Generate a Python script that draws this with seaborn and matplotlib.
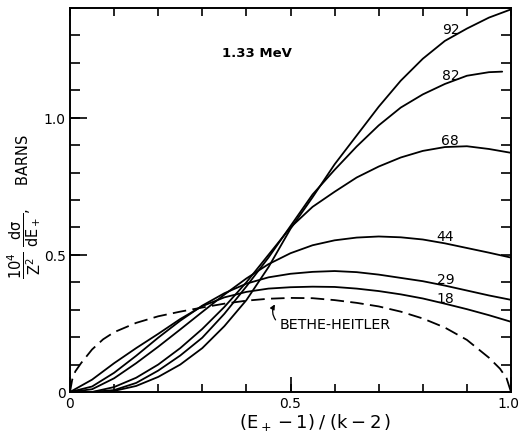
import numpy as np
import pandas as pd
import matplotlib
matplotlib.use("Agg")
import matplotlib.pyplot as plt
from matplotlib.ticker import MultipleLocator, FixedLocator
from matplotlib.transforms import ScaledTranslation
import seaborn as sns

# Positron energy fraction (E+ - 1)/(k - 2)
x_grid = [0.0, 0.05, 0.1, 0.15, 0.2, 0.25, 0.3, 0.35, 0.4, 0.45, 0.5,
          0.55, 0.6, 0.65, 0.7, 0.75, 0.8, 0.85, 0.9, 0.95, 1.0]

# Scaled cross sections 10^4/Z^2 dsigma/dE+ (barns) for each atomic number Z
z18 = [0.0, 0.045, 0.105, 0.160, 0.212, 0.266, 0.313, 0.345, 0.365, 0.377, 0.382,
       0.384, 0.383, 0.377, 0.368, 0.356, 0.341, 0.322, 0.302, 0.280, 0.256]
z29 = [0.0, 0.020, 0.070, 0.132, 0.198, 0.260, 0.315, 0.360, 0.395, 0.418, 0.431,
       0.438, 0.441, 0.437, 0.428, 0.416, 0.404, 0.388, 0.370, 0.352, 0.336]
z44 = [0.0, 0.010, 0.050, 0.105, 0.165, 0.228, 0.292, 0.355, 0.414, 0.466, 0.506,
       0.535, 0.553, 0.563, 0.567, 0.564, 0.556, 0.542, 0.525, 0.508, 0.490]
z68 = [0.0, 0.0, 0.018, 0.052, 0.100, 0.160, 0.230, 0.310, 0.400, 0.500, 0.600,
       0.675, 0.730, 0.782, 0.822, 0.855, 0.879, 0.893, 0.896, 0.886, 0.872]
z82_x = [0.0, 0.05, 0.1, 0.15, 0.2, 0.25, 0.3, 0.35, 0.4, 0.45, 0.5,
         0.55, 0.6, 0.65, 0.7, 0.75, 0.8, 0.85, 0.9, 0.95, 0.98]
z82 = [0.0, 0.0, 0.007, 0.033, 0.078, 0.133, 0.198, 0.285, 0.385, 0.490, 0.605,
       0.720, 0.810, 0.895, 0.972, 1.037, 1.085, 1.123, 1.153, 1.166, 1.168]
z92 = [0.0, 0.0, 0.004, 0.022, 0.055, 0.100, 0.160, 0.240, 0.335, 0.455, 0.595,
       0.710, 0.830, 0.935, 1.040, 1.135, 1.215, 1.280, 1.325, 1.365, 1.395]

# Bethe-Heitler (Born approximation) curve
bh_x = [0.0, 0.005, 0.012, 0.025, 0.05, 0.075, 0.1, 0.15, 0.2, 0.25, 0.3, 0.35,
        0.4, 0.45, 0.5, 0.55, 0.6, 0.65, 0.7, 0.75, 0.8, 0.85, 0.9, 0.95,
        0.975, 0.99, 1.0]
bh_y = [0.0, 0.045, 0.075, 0.105, 0.155, 0.192, 0.218, 0.252, 0.276, 0.293, 0.308,
        0.322, 0.333, 0.340, 0.343, 0.342, 0.335, 0.325, 0.312, 0.293, 0.268,
        0.235, 0.190, 0.125, 0.085, 0.050, 0.0]

curve_labels = ["92", "82", "68", "44", "29", "18"]
label_x = [0.864, 0.864, 0.862, 0.851, 0.853, 0.851]
label_y = [1.323, 1.156, 0.919, 0.569, 0.412, 0.343]

sns.set_theme(style="white")
plt.rcParams["font.family"] = ["DejaVu Sans"]
plt.rcParams.update({"text.color": "black", "axes.labelcolor": "black",
                     "xtick.color": "black", "ytick.color": "black"})

fig = plt.figure(figsize=(5.19, 4.35), dpi=100)
ax = fig.add_axes([70 / 519, 1 - 393 / 435, 441 / 519, 384 / 435])

series = [(x_grid, z92), (z82_x, z82), (x_grid, z68),
          (x_grid, z44), (x_grid, z29), (x_grid, z18)]
for xs, ys in series:
    sns.lineplot(x=xs, y=ys, ax=ax, color="black", linewidth=1.3,
                 estimator=None, sort=False)

sns.lineplot(x=bh_x, y=bh_y, ax=ax, color="black", linewidth=1.3,
             estimator=None, sort=False)
ax.lines[-1].set_dashes((7.5, 3.5))

ax.set_xlim(0, 1.0)
ax.set_ylim(0, 1.4)

for s in ax.spines.values():
    s.set_color("black")
    s.set_linewidth(1.4)

# Labelled majors on bottom/left only; short ticks every 0.1 on all four sides
ax.xaxis.set_major_locator(FixedLocator([0, 0.5, 1.0]))
ax.xaxis.set_minor_locator(MultipleLocator(0.1))
ax.yaxis.set_major_locator(FixedLocator([0, 0.5, 1.0]))
ax.yaxis.set_minor_locator(MultipleLocator(0.1))
ax.xaxis.remove_overlapping_locs = False
ax.yaxis.remove_overlapping_locs = False
ax.set_xticklabels(["0", "0.5", "1.0"])
ax.set_yticklabels(["0", "0.5", "1.0"])

ax.tick_params(axis="both", which="both", direction="in", color="black",
               width=1.2, labelsize=10, pad=3)
ax.tick_params(axis="x", which="major", length=11, top=False, bottom=True)
ax.tick_params(axis="y", which="major", length=12, right=False, left=True)
ax.tick_params(axis="x", which="minor", length=6, top=True, bottom=True)
ax.tick_params(axis="y", which="minor", length=7, right=True, left=True)

last = ax.get_xticklabels()[-1]
last.set_horizontalalignment("right")
last.set_transform(last.get_transform() +
                   ScaledTranslation(8 / 100, 0, fig.dpi_scale_trans))

for lab, lx, ly in zip(curve_labels, label_x, label_y):
    ax.text(lx, ly, lab, fontsize=10, ha="center", va="center")

ax.text(0.423, 1.236, "1.33 MeV", fontsize=9.5, fontweight="bold",
        ha="center", va="center")

ax.text(0.475, 0.247, "BETHE-HEITLER", fontsize=10.3, ha="left", va="center")
ax.annotate("", xy=(0.468, 0.328), xytext=(0.47, 0.255),
            arrowprops=dict(arrowstyle="-|>", color="black", lw=0.9,
                            mutation_scale=7,
                            connectionstyle="arc3,rad=-0.4"))

fig.text(315 / 519, 1 - 423 / 435,
         r"$\mathregular{(E_+ - 1)\;/\;(k - 2\,)}$",
         fontsize=13, ha="center", va="center")
fig.text(24 / 519, 1 - 206 / 435,
         r"$\mathregular{\dfrac{10^4}{Z^2}\ \dfrac{d\sigma}{dE_+}}$,     BARNS",
         fontsize=10.5, rotation=90, ha="center", va="center")

fig.savefig("out.png", dpi=100, facecolor="white")
